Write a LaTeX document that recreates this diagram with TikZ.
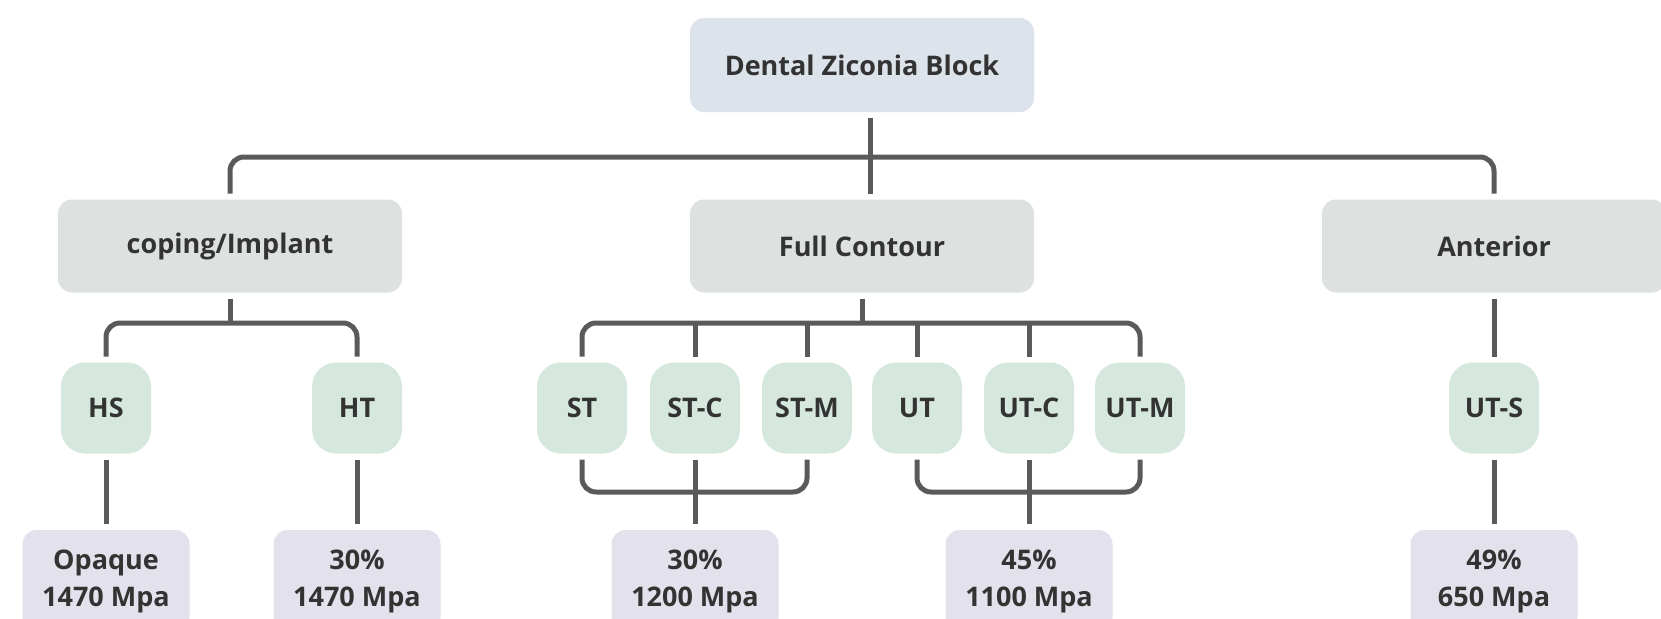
\documentclass[tikz,border=0pt]{standalone}
\usepackage{fontspec}
\setmainfont{Open Sans}
\usetikzlibrary{calc}
\definecolor{linec}{HTML}{5A5A5A}
\definecolor{topc}{HTML}{DCE3EB}
\definecolor{midc}{HTML}{DDE1DF}
\definecolor{leafc}{HTML}{D6E7DE}
\definecolor{resc}{HTML}{E3E2EC}
\definecolor{txt}{HTML}{333333}
\begin{document}
\begin{tikzpicture}[x=1pt,y=-1pt,
 box/.style={rounded corners=14pt, inner sep=0pt, outer sep=6pt, text=txt,
   font=\fontsize{27}{37}\selectfont\bfseries, align=center},
 topbox/.style={box, fill=topc, minimum width=344pt, minimum height=94pt},
 midbox/.style={box, fill=midc, minimum width=344pt, minimum height=93pt},
 leafbox/.style={box, fill=leafc, minimum width=90pt, minimum height=91pt, rounded corners=24pt},
 resbox/.style={box, fill=resc, minimum width=167pt, minimum height=102pt},
 conn/.style={draw=linec, line width=5pt, rounded corners=14pt}]
\useasboundingbox (0,0) rectangle (1661,618);
% level 1
\node[topbox] (top) at (862,65) {Dental Ziconia Block};
% level 2
\node[midbox] (cop) at (230,246) {coping/Implant};
\node[midbox] (full) at (862,246) {Full Contour};
\node[midbox] (ant) at (1494,246) {Anterior};
% level 3
\node[leafbox] (hs) at (106,408) {HS};
\node[leafbox] (ht) at (357,408) {HT};
\node[leafbox] (st) at (582,408) {ST};
\node[leafbox] (stc) at (695,408) {ST-C};
\node[leafbox] (stm) at (807,408) {ST-M};
\node[leafbox] (ut) at (917,408) {UT};
\node[leafbox] (utc) at (1029,408) {UT-C};
\node[leafbox] (utm) at (1140,408) {UT-M};
\node[leafbox] (uts) at (1494,408) {UT-S};
% level 4
\node[resbox] (rhs) at (106,581) {Opaque\\1470 Mpa};
\node[resbox] (rht) at (357,581) {30\%\\1470 Mpa};
\node[resbox] (rst) at (695,581) {30\%\\1200 Mpa};
\node[resbox] (rut) at (1029,581) {45\%\\1100 Mpa};
\node[resbox] (ruts) at (1494,581) {49\%\\650 Mpa};
% bar levels
\coordinate (bar1) at (0,157);
\coordinate (bar2) at (0,323);
\coordinate (bar3) at (0,492);
% connectors
\draw[conn] ([xshift=8pt]top.south) -- ([xshift=8pt]full.north);
\draw[conn] (cop.north) -- (cop.north |- bar1) -- (ant.north |- bar1) -- (ant.north);
\draw[conn] (cop.south) -- (cop.south |- bar2);
\draw[conn] (hs.north) -- (hs.north |- bar2) -- (ht.north |- bar2) -- (ht.north);
\draw[conn] (full.south) -- (full.south |- bar2);
\draw[conn] (st.north) -- (st.north |- bar2) -- (utm.north |- bar2) -- (utm.north);
\foreach \n in {stc,stm,ut,utc} \draw[conn] (\n.north) -- (\n.north |- bar2);
\draw[conn] (st.south) -- (st.south |- bar3) -- (stm.south |- bar3) -- (stm.south);
\draw[conn] (stc.south) -- (rst.north);
\draw[conn] (ut.south) -- (ut.south |- bar3) -- (utm.south |- bar3) -- (utm.south);
\draw[conn] (utc.south) -- (rut.north);
\draw[conn] (hs.south) -- (rhs.north);
\draw[conn] (ht.south) -- (rht.north);
\draw[conn] (ant.south) -- (uts.north);
\draw[conn] (uts.south) -- (ruts.north);
\end{tikzpicture}
\end{document}
